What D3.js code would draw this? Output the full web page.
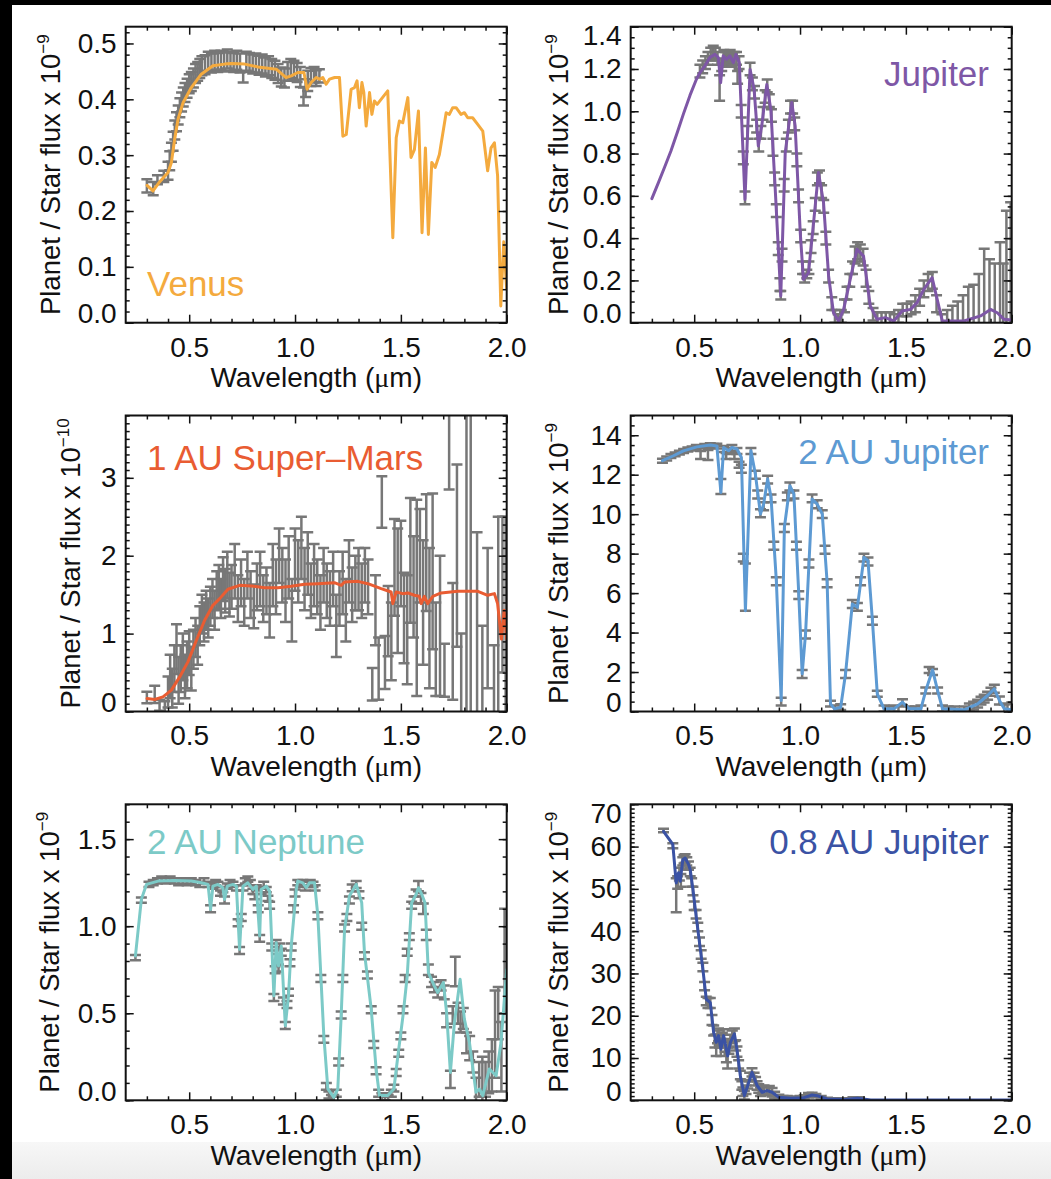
<!DOCTYPE html>
<html><head><meta charset="utf-8">
<script src="https://cdn.jsdelivr.net/npm/d3@7"></script>
<style>body{margin:0;background:#fff}svg{display:block}</style>
</head><body>
<svg id="c" width="1051" height="1179"></svg>
<script>
// ---------------- DATA ----------------
const xMajorTicks = [0.5, 1.0, 1.5, 2.0];
const xMinorTicks = [0.3,0.4,0.6,0.7,0.8,0.9,1.1,1.2,1.3,1.4,1.6,1.7,1.8,1.9];

const venusYTicks = [0.0,0.1,0.2,0.3,0.4,0.5];
const jupiterYTicks = [0.0,0.2,0.4,0.6,0.8,1.0,1.2,1.4];
const marsYTicks = [0,1,2,3];
const jup2YTicks = [0,2,4,6,8,10,12,14];
const neptuneYTicks = [0.0,0.5,1.0,1.5];
const jup08YTicks = [0,10,20,30,40,50,60,70];

const panelLabels = ["Venus","Jupiter","1 AU Super\u2013Mars","2 AU Jupiter","2 AU Neptune","0.8 AU Jupiter"];

// model spectra: [wavelength (um), planet/star flux]
const venusModel = [[0.301,0.246],[0.329,0.236],[0.360,0.252],[0.400,0.269],[0.416,0.287],[0.431,0.328],[0.447,0.364],[0.471,0.394],[0.510,0.421],[0.557,0.445],[0.612,0.460],[0.667,0.463],[0.699,0.464],[0.762,0.463],[0.825,0.458],[0.911,0.454],[0.958,0.439],[0.982,0.442],[1.013,0.448],[1.042,0.448],[1.057,0.418],[1.076,0.430],[1.100,0.439],[1.116,0.436],[1.131,0.439],[1.147,0.427],[1.163,0.436],[1.187,0.439],[1.210,0.439],[1.226,0.334],[1.242,0.337],[1.265,0.418],[1.281,0.421],[1.293,0.433],[1.304,0.385],[1.316,0.430],[1.325,0.412],[1.336,0.352],[1.352,0.412],[1.363,0.373],[1.375,0.397],[1.388,0.391],[1.438,0.415],[1.462,0.152],[1.478,0.331],[1.493,0.361],[1.509,0.358],[1.533,0.403],[1.548,0.296],[1.564,0.310],[1.583,0.379],[1.600,0.161],[1.616,0.313],[1.630,0.158],[1.646,0.287],[1.662,0.278],[1.682,0.301],[1.714,0.376],[1.729,0.373],[1.745,0.385],[1.761,0.385],[1.784,0.373],[1.800,0.376],[1.816,0.367],[1.839,0.367],[1.863,0.355],[1.887,0.343],[1.910,0.272],[1.926,0.313],[1.942,0.322],[1.957,0.263],[1.972,0.030],[1.986,0.145],[2.000,0.060]];

// observations: [wavelength, value, error]
const venusObs = [[0.300,0.245,0.012],[0.330,0.240,0.012],[0.350,0.256,0.008],[0.380,0.262,0.010],[0.400,0.272,0.016],[0.408,0.290,0.017],[0.416,0.305,0.017],[0.424,0.325,0.017],[0.432,0.345,0.017],[0.440,0.360,0.017],[0.448,0.372,0.017],[0.456,0.385,0.017],[0.464,0.395,0.017],[0.472,0.404,0.017],[0.480,0.412,0.017],[0.490,0.420,0.017],[0.500,0.428,0.017],[0.510,0.432,0.017],[0.520,0.438,0.017],[0.530,0.446,0.017],[0.540,0.450,0.017],[0.550,0.455,0.017],[0.560,0.460,0.017],[0.575,0.462,0.017],[0.590,0.468,0.017],[0.605,0.465,0.017],[0.620,0.470,0.017],[0.635,0.466,0.017],[0.650,0.470,0.017],[0.665,0.467,0.017],[0.680,0.472,0.017],[0.695,0.468,0.017],[0.710,0.466,0.017],[0.725,0.470,0.017],[0.740,0.465,0.017],[0.755,0.440,0.010],[0.770,0.468,0.017],[0.785,0.466,0.017],[0.800,0.463,0.017],[0.815,0.465,0.017],[0.830,0.461,0.017],[0.845,0.463,0.017],[0.860,0.458,0.017],[0.875,0.460,0.017],[0.890,0.455,0.017],[0.905,0.452,0.017],[0.920,0.446,0.017],[0.935,0.440,0.017],[0.950,0.438,0.017],[0.965,0.450,0.017],[0.980,0.455,0.017],[0.995,0.452,0.017],[1.010,0.448,0.017],[1.025,0.440,0.018],[1.040,0.405,0.016],[1.050,0.420,0.016],[1.060,0.433,0.018],[1.075,0.440,0.016],[1.090,0.444,0.014],[1.100,0.438,0.014],[1.115,0.442,0.012]];

const jupiterModel = [[0.300,0.587],[0.330,0.660],[0.360,0.735],[0.390,0.812],[0.420,0.900],[0.450,0.990],[0.480,1.075],[0.510,1.150],[0.527,1.183],[0.550,1.214],[0.574,1.254],[0.598,1.269],[0.614,1.254],[0.625,1.135],[0.637,1.262],[0.653,1.246],[0.669,1.262],[0.685,1.230],[0.697,1.269],[0.713,1.230],[0.740,0.583],[0.764,1.198],[0.783,1.104],[0.803,0.836],[0.819,0.930],[0.843,1.127],[0.862,1.009],[0.882,0.647],[0.909,0.126],[0.930,0.804],[0.961,1.041],[0.977,0.930],[1.001,0.426],[1.016,0.205],[1.040,0.237],[1.064,0.473],[1.087,0.710],[1.111,0.568],[1.135,0.221],[1.158,0.047],[1.182,0.008],[1.206,0.063],[1.237,0.205],[1.269,0.347],[1.300,0.315],[1.332,0.079],[1.364,0.016],[1.403,0.024],[1.443,0.008],[1.482,0.055],[1.522,0.063],[1.553,0.095],[1.585,0.158],[1.624,0.213],[1.648,0.110],[1.672,0.008],[1.774,0.008],[1.853,0.032],[1.900,0.063],[1.932,0.047],[1.964,0.016],[2.000,0.013]];

const jupiterObs = [[0.527,1.19,0.03],[0.540,1.21,0.03],[0.553,1.23,0.03],[0.565,1.25,0.03],[0.578,1.27,0.03],[0.590,1.28,0.03],[0.600,1.27,0.03],[0.610,1.25,0.03],[0.620,1.11,0.06],[0.630,1.22,0.03],[0.640,1.26,0.03],[0.650,1.25,0.03],[0.660,1.24,0.03],[0.670,1.26,0.03],[0.680,1.24,0.03],[0.690,1.25,0.03],[0.700,1.25,0.03],[0.705,1.16,0.03],[0.712,1.23,0.03],[0.722,1.00,0.03],[0.732,0.78,0.03],[0.740,0.59,0.03],[0.752,0.90,0.03],[0.764,1.20,0.03],[0.775,1.13,0.03],[0.785,1.09,0.03],[0.795,0.93,0.03],[0.805,0.84,0.03],[0.815,0.90,0.03],[0.825,0.99,0.03],[0.835,1.07,0.03],[0.845,1.12,0.03],[0.855,1.05,0.03],[0.865,0.98,0.03],[0.872,0.83,0.04],[0.880,0.68,0.03],[0.888,0.53,0.03],[0.897,0.35,0.03],[0.905,0.18,0.03],[0.909,0.13,0.02],[0.915,0.32,0.03],[0.925,0.65,0.03],[0.935,0.84,0.03],[0.945,0.93,0.03],[0.955,1.02,0.03],[0.965,1.02,0.03],[0.975,0.94,0.03],[0.985,0.77,0.03],[0.993,0.60,0.03],[1.003,0.41,0.03],[1.012,0.26,0.03],[1.022,0.21,0.02],[1.032,0.23,0.02],[1.042,0.26,0.03],[1.052,0.36,0.03],[1.062,0.45,0.03],[1.072,0.56,0.03],[1.082,0.68,0.03],[1.092,0.69,0.03],[1.102,0.62,0.03],[1.112,0.55,0.03],[1.122,0.40,0.03],[1.135,0.22,0.03],[1.150,0.09,0.03],[1.165,0.03,0.03],[1.180,0.01,0.03],[1.195,0.03,0.03],[1.210,0.08,0.03],[1.222,0.14,0.03],[1.235,0.20,0.03],[1.248,0.26,0.03],[1.260,0.32,0.04],[1.272,0.34,0.04],[1.285,0.33,0.04],[1.298,0.31,0.04],[1.312,0.21,0.04],[1.325,0.12,0.03],[1.345,0.04,0.03],[1.365,0.02,0.03],[1.385,0.02,0.03],[1.405,0.02,0.03],[1.425,0.02,0.03],[1.445,0.01,0.03],[1.465,0.03,0.03],[1.485,0.06,0.03],[1.505,0.06,0.03],[1.525,0.07,0.03],[1.545,0.09,0.04],[1.565,0.12,0.04],[1.585,0.16,0.04],[1.605,0.19,0.04],[1.625,0.20,0.04],[1.645,0.09,0.04],[1.670,0.01,0.03],[1.695,0.01,0.05],[1.720,0.02,0.06],[1.745,0.02,0.08],[1.770,0.03,0.10],[1.795,0.05,0.12],[1.820,0.05,0.13],[1.845,0.08,0.15],[1.870,0.10,0.25],[1.895,0.08,0.22],[1.920,0.08,0.20],[1.945,0.12,0.26],[1.960,0.06,0.22],[1.975,0.15,0.38],[1.995,0.15,0.42]];

const marsModel = [[0.301,0.167],[0.337,0.154],[0.376,0.188],[0.416,0.274],[0.455,0.444],[0.494,0.637],[0.534,0.915],[0.573,1.171],[0.612,1.363],[0.644,1.449],[0.683,1.569],[0.738,1.620],[0.793,1.611],[0.856,1.590],[0.919,1.590],[0.982,1.607],[1.045,1.633],[1.108,1.641],[1.186,1.654],[1.218,1.620],[1.234,1.663],[1.297,1.671],[1.344,1.641],[1.407,1.577],[1.454,1.534],[1.462,1.385],[1.478,1.534],[1.509,1.513],[1.533,1.522],[1.564,1.492],[1.587,1.479],[1.596,1.385],[1.611,1.479],[1.627,1.385],[1.651,1.479],[1.690,1.522],[1.769,1.543],[1.864,1.543],[1.910,1.492],[1.942,1.513],[1.957,1.385],[1.975,0.930],[1.988,1.300],[2.000,0.930]];

const marsObs = [[0.300,0.18,0.075],[0.337,0.22,0.11],[0.360,0.08,0.07],[0.385,0.05,0.08],[0.400,0.25,0.20],[0.410,0.45,0.28],[0.420,0.30,0.25],[0.430,0.55,0.30],[0.440,0.80,0.32],[0.450,0.40,0.30],[0.460,0.55,0.30],[0.470,0.70,0.30],[0.480,0.45,0.28],[0.490,0.60,0.30],[0.500,0.75,0.28],[0.510,0.55,0.28],[0.520,0.80,0.25],[0.530,0.95,0.25],[0.540,0.85,0.25],[0.550,1.10,0.25],[0.560,1.25,0.25],[0.570,1.15,0.25],[0.580,1.30,0.25],[0.590,1.20,0.25],[0.600,1.35,0.25],[0.610,1.45,0.25],[0.620,1.30,0.25],[0.630,1.55,0.25],[0.640,1.60,0.28],[0.650,1.45,0.25],[0.660,1.70,0.28],[0.670,1.55,0.28],[0.680,1.75,0.30],[0.690,1.50,0.28],[0.700,1.60,0.28],[0.715,1.80,0.35],[0.730,1.45,0.30],[0.745,1.65,0.30],[0.760,1.40,0.30],[0.775,1.75,0.30],[0.790,1.50,0.30],[0.805,1.35,0.28],[0.820,1.60,0.30],[0.835,1.70,0.35],[0.850,1.45,0.30],[0.865,1.55,0.30],[0.880,1.30,0.35],[0.895,1.75,0.40],[0.910,1.60,0.35],[0.925,2.00,0.35],[0.940,1.75,0.35],[0.955,1.55,0.40],[0.970,1.85,0.40],[0.985,1.30,0.40],[1.000,1.95,0.40],[1.015,1.80,0.40],[1.030,2.10,0.40],[1.045,1.70,0.40],[1.060,1.90,0.40],[1.075,1.55,0.35],[1.090,1.75,0.40],[1.105,1.60,0.35],[1.120,1.40,0.35],[1.135,1.75,0.35],[1.150,1.55,0.35],[1.165,1.45,0.35],[1.180,1.70,0.35],[1.195,1.10,0.40],[1.210,1.45,0.35],[1.225,1.65,0.40],[1.240,1.30,0.40],[1.255,1.80,0.40],[1.270,1.50,0.35],[1.285,1.65,0.35],[1.300,1.70,0.40],[1.315,1.55,0.35],[1.330,1.75,0.35],[1.345,1.60,0.35],[1.365,0.35,0.21],[1.380,1.30,0.45],[1.395,0.55,0.40],[1.410,2.69,0.33],[1.425,0.63,0.34],[1.440,1.16,0.45],[1.455,0.90,0.50],[1.470,1.85,0.62],[1.485,1.55,0.80],[1.500,1.90,0.55],[1.515,1.20,0.58],[1.530,1.05,0.70],[1.545,1.94,0.80],[1.560,1.60,0.65],[1.575,1.46,1.26],[1.590,2.00,0.60],[1.605,1.40,0.80],[1.620,2.04,0.75],[1.635,1.20,0.90],[1.650,1.80,1.00],[1.665,0.80,0.60],[1.685,1.10,0.90],[1.706,0.53,0.34],[1.728,3.50,0.65],[1.745,0.90,0.75],[1.765,2.00,1.17],[1.785,0.40,0.60],[1.810,1.50,2.40],[1.830,2.00,2.50],[1.860,0.90,1.40],[1.885,0.30,0.80],[1.910,1.20,0.90],[1.940,0.30,0.55],[1.960,0.90,1.60],[1.980,1.50,1.00],[1.995,0.60,1.90]];

const jup2Model = [[0.350,12.71],[0.402,12.96],[0.449,13.21],[0.513,13.41],[0.576,13.50],[0.607,13.46],[0.626,11.10],[0.639,13.38],[0.663,13.21],[0.678,13.38],[0.702,13.30],[0.723,12.87],[0.742,5.11],[0.768,13.21],[0.789,12.03],[0.813,10.01],[0.828,10.51],[0.847,11.78],[0.863,10.85],[0.888,6.63],[0.911,0.557],[0.926,9.33],[0.952,11.44],[0.971,11.02],[0.994,5.96],[1.010,1.91],[1.026,3.93],[1.057,10.77],[1.081,10.51],[1.105,10.01],[1.128,6.55],[1.144,0.388],[1.163,0.135],[1.192,0.219],[1.215,1.91],[1.247,5.45],[1.271,5.28],[1.302,7.81],[1.321,7.64],[1.342,4.61],[1.365,0.894],[1.397,0.135],[1.444,0.135],[1.484,0.472],[1.515,0.135],[1.571,0.135],[1.594,1.063],[1.626,2.11],[1.650,1.063],[1.673,0.135],[1.776,0.084],[1.839,0.388],[1.886,0.81],[1.918,1.147],[1.942,0.557],[1.965,0.135],[2.000,0.084]];

const jup2Obs = [[0.350,12.71,0.1],[0.370,12.82,0.1],[0.390,12.95,0.1],[0.410,13.03,0.1],[0.430,13.12,0.1],[0.450,13.20,0.1],[0.470,13.28,0.1],[0.490,13.33,0.1],[0.510,13.40,0.1],[0.530,13.00,0.2],[0.550,13.45,0.1],[0.565,13.00,0.25],[0.576,13.50,0.1],[0.590,13.45,0.1],[0.607,13.45,0.12],[0.626,11.40,0.38],[0.639,13.30,0.15],[0.651,12.95,0.15],[0.663,13.20,0.15],[0.678,13.35,0.15],[0.690,12.95,0.15],[0.702,13.20,0.15],[0.712,12.50,0.15],[0.723,12.30,0.2],[0.732,7.80,0.2],[0.742,6.30,1.2],[0.768,13.20,0.15],[0.789,12.00,0.2],[0.800,11.00,0.2],[0.813,10.05,0.2],[0.828,10.40,0.2],[0.847,11.75,0.2],[0.863,10.80,0.2],[0.876,8.40,0.2],[0.888,6.60,0.2],[0.911,0.50,0.2],[0.926,9.30,0.2],[0.940,10.90,0.2],[0.952,11.40,0.2],[0.971,11.00,0.2],[0.983,8.40,0.2],[0.994,5.90,0.2],[1.010,1.90,0.2],[1.026,3.90,0.2],[1.042,7.50,0.2],[1.057,10.80,0.2],[1.081,10.50,0.2],[1.105,10.00,0.2],[1.118,8.20,0.2],[1.128,6.50,0.2],[1.144,0.40,0.15],[1.163,0.15,0.15],[1.192,0.22,0.15],[1.215,1.90,0.2],[1.247,5.45,0.2],[1.271,5.30,0.2],[1.286,6.60,0.2],[1.302,7.80,0.2],[1.321,7.60,0.2],[1.342,4.60,0.2],[1.365,0.90,0.15],[1.397,0.15,0.15],[1.420,0.10,0.15],[1.444,0.15,0.15],[1.465,0.10,0.15],[1.484,0.47,0.15],[1.515,0.10,0.15],[1.545,0.10,0.15],[1.571,0.15,0.15],[1.594,1.06,0.15],[1.610,2.10,0.15],[1.626,2.00,0.15],[1.650,1.06,0.15],[1.673,0.15,0.15],[1.700,0.10,0.15],[1.730,0.10,0.15],[1.776,0.10,0.15],[1.800,0.20,0.2],[1.820,0.30,0.2],[1.839,0.40,0.2],[1.855,0.55,0.2],[1.870,0.65,0.2],[1.886,0.80,0.2],[1.902,1.00,0.2],[1.918,1.15,0.2],[1.942,0.56,0.2],[1.965,0.15,0.2],[1.980,0.15,0.25],[2.000,0.20,0.25]];

const neptuneModel = [[0.246,0.829],[0.274,1.154],[0.298,1.240],[0.353,1.259],[0.431,1.263],[0.510,1.259],[0.557,1.249],[0.589,1.240],[0.601,1.096],[0.612,1.230],[0.636,1.240],[0.659,1.221],[0.667,1.154],[0.680,1.230],[0.707,1.240],[0.723,1.230],[0.738,0.867],[0.754,1.230],[0.777,1.249],[0.801,1.211],[0.817,1.230],[0.833,0.944],[0.840,1.211],[0.864,1.230],[0.880,1.201],[0.900,0.600],[0.911,0.905],[0.922,0.772],[0.935,0.886],[0.954,0.428],[0.969,0.600],[0.982,0.886],[1.006,1.211],[1.013,1.259],[1.037,1.249],[1.053,1.221],[1.068,1.249],[1.092,1.249],[1.108,1.058],[1.136,0.371],[1.155,0.065],[1.183,0.017],[1.202,0.065],[1.218,0.485],[1.234,0.982],[1.257,1.173],[1.289,1.240],[1.315,1.135],[1.328,0.848],[1.360,0.523],[1.383,0.180],[1.399,0.027],[1.438,0.027],[1.467,0.065],[1.486,0.256],[1.510,0.485],[1.530,0.714],[1.551,1.135],[1.572,1.182],[1.583,1.221],[1.599,1.182],[1.614,1.135],[1.630,0.733],[1.658,0.657],[1.674,0.619],[1.701,0.676],[1.716,0.504],[1.734,0.160],[1.753,0.447],[1.780,0.695],[1.800,0.466],[1.824,0.332],[1.855,0.046],[1.871,0.065],[1.887,0.027],[1.918,0.180],[1.950,0.141],[1.973,0.332],[2.000,0.750]];

const neptuneObs = [[0.246,0.82,0.015],[0.274,1.15,0.015],[0.310,1.24,0.015],[0.330,1.25,0.015],[0.350,1.26,0.015],[0.370,1.27,0.015],[0.390,1.26,0.015],[0.410,1.27,0.015],[0.430,1.26,0.015],[0.450,1.25,0.015],[0.470,1.26,0.015],[0.490,1.25,0.015],[0.510,1.26,0.015],[0.530,1.25,0.015],[0.550,1.24,0.015],[0.570,1.26,0.015],[0.589,1.24,0.015],[0.601,1.10,0.02],[0.612,1.23,0.015],[0.625,1.25,0.015],[0.636,1.24,0.015],[0.648,1.19,0.015],[0.659,1.21,0.015],[0.667,1.15,0.02],[0.680,1.23,0.015],[0.693,1.25,0.015],[0.707,1.24,0.015],[0.723,1.22,0.015],[0.731,1.02,0.02],[0.738,0.86,0.02],[0.746,1.05,0.02],[0.754,1.22,0.015],[0.765,1.26,0.015],[0.777,1.27,0.015],[0.789,1.25,0.015],[0.801,1.20,0.015],[0.810,1.17,0.015],[0.817,1.22,0.015],[0.826,1.10,0.02],[0.833,0.93,0.02],[0.840,1.20,0.015],[0.852,1.24,0.015],[0.864,1.21,0.015],[0.872,1.16,0.015],[0.880,1.12,0.02],[0.890,0.88,0.02],[0.900,0.59,0.02],[0.906,0.75,0.02],[0.911,0.90,0.02],[0.917,0.82,0.02],[0.922,0.76,0.02],[0.928,0.88,0.02],[0.935,0.85,0.02],[0.945,0.57,0.02],[0.954,0.43,0.02],[0.962,0.55,0.02],[0.969,0.62,0.02],[0.976,0.79,0.02],[0.982,0.88,0.02],[0.993,1.10,0.02],[1.000,1.19,0.02],[1.013,1.25,0.015],[1.025,1.24,0.015],[1.037,1.25,0.015],[1.048,1.22,0.015],[1.060,1.24,0.015],[1.072,1.25,0.015],[1.085,1.24,0.015],[1.095,1.22,0.015],[1.108,1.06,0.02],[1.122,0.70,0.02],[1.136,0.35,0.02],[1.148,0.08,0.02],[1.160,0.03,0.02],[1.172,0.01,0.02],[1.183,0.01,0.02],[1.195,0.04,0.02],[1.206,0.22,0.02],[1.218,0.49,0.02],[1.226,0.70,0.02],[1.234,0.99,0.02],[1.245,1.05,0.02],[1.257,1.15,0.02],[1.270,1.22,0.02],[1.289,1.24,0.02],[1.302,1.18,0.02],[1.315,1.00,0.02],[1.328,0.83,0.02],[1.342,0.72,0.02],[1.360,0.52,0.02],[1.372,0.32,0.02],[1.383,0.17,0.02],[1.395,0.04,0.02],[1.410,0.02,0.02],[1.425,0.02,0.02],[1.440,0.01,0.02],[1.455,0.04,0.02],[1.467,0.07,0.02],[1.478,0.16,0.02],[1.490,0.27,0.02],[1.500,0.37,0.02],[1.510,0.52,0.02],[1.520,0.70,0.02],[1.530,0.85,0.02],[1.540,0.94,0.02],[1.551,1.12,0.02],[1.562,1.15,0.02],[1.572,1.19,0.02],[1.583,1.23,0.03],[1.595,1.16,0.03],[1.606,1.10,0.03],[1.620,0.95,0.03],[1.630,0.75,0.03],[1.645,0.68,0.03],[1.658,0.65,0.03],[1.674,0.62,0.03],[1.690,0.66,0.03],[1.705,0.62,0.04],[1.716,0.46,0.04],[1.734,0.12,0.05],[1.745,0.49,0.05],[1.757,0.74,0.085],[1.770,0.50,0.06],[1.782,0.45,0.06],[1.795,0.47,0.06],[1.810,0.33,0.06],[1.825,0.30,0.07],[1.840,0.22,0.06],[1.855,0.05,0.08],[1.870,0.12,0.10],[1.885,0.10,0.15],[1.900,0.12,0.10],[1.915,0.16,0.12],[1.930,0.20,0.15],[1.945,0.38,0.25],[1.960,0.50,0.15],[1.975,0.25,0.20],[1.990,0.80,0.30]];

const jup08Model = [[0.355,63.6],[0.399,60.5],[0.415,51.4],[0.426,53.8],[0.434,51.8],[0.446,56.9],[0.457,57.3],[0.473,55.8],[0.481,54.6],[0.494,49.9],[0.509,43.6],[0.525,37.3],[0.541,31.0],[0.557,23.9],[0.576,23.1],[0.592,16.0],[0.604,13.7],[0.615,15.3],[0.626,12.1],[0.639,15.3],[0.658,10.5],[0.671,13.7],[0.690,15.7],[0.702,12.1],[0.718,5.8],[0.737,1.1],[0.753,3.5],[0.773,6.6],[0.797,3.5],[0.821,1.9],[0.844,2.3],[0.868,1.9],[0.900,0.7],[0.955,0.47],[1.018,0.63],[1.057,1.26],[1.081,1.1],[1.128,0.31],[1.207,0.16],[1.271,0.47],[1.334,0.08],[2.000,0.08]];

const jup08Obs = [[0.355,63.8,0.4],[0.399,60.2,0.6],[0.415,48.5,4.0],[0.422,51.5,1.5],[0.430,53.5,1.5],[0.437,52.0,1.5],[0.446,56.5,1.0],[0.452,57.0,1.0],[0.457,57.2,1.0],[0.465,56.5,1.0],[0.473,55.5,1.0],[0.481,54.0,1.0],[0.488,51.5,1.0],[0.494,49.5,1.0],[0.500,46.0,1.0],[0.509,44.0,1.0],[0.517,41.0,1.0],[0.525,37.5,1.0],[0.533,34.5,1.0],[0.541,31.5,1.0],[0.549,27.0,1.0],[0.557,23.5,1.0],[0.565,23.0,1.2],[0.576,23.0,1.2],[0.584,19.0,1.2],[0.592,16.5,1.2],[0.598,14.0,1.5],[0.604,13.0,2.5],[0.610,15.0,1.5],[0.615,15.5,1.5],[0.620,14.0,1.5],[0.626,12.5,2.0],[0.633,14.5,1.5],[0.639,15.3,1.5],[0.646,13.0,1.5],[0.652,11.0,2.0],[0.658,10.0,2.5],[0.664,12.5,1.5],[0.671,14.0,1.5],[0.680,15.0,1.5],[0.690,15.5,1.5],[0.696,13.0,1.2],[0.702,11.5,1.2],[0.710,8.5,1.0],[0.718,6.0,1.0],[0.725,3.5,1.0],[0.730,2.0,1.0],[0.737,1.2,1.0],[0.745,2.5,1.0],[0.753,3.8,1.0],[0.762,5.5,1.0],[0.773,6.6,1.0],[0.783,5.5,1.0],[0.790,4.5,1.0],[0.797,3.5,1.0],[0.805,2.8,1.0],[0.813,2.0,1.0],[0.821,2.2,1.0],[0.830,2.5,1.0],[0.844,2.3,1.0],[0.855,2.4,1.0],[0.868,1.9,1.0],[0.880,1.2,0.8],[0.900,0.7,0.6],[0.920,0.5,0.5],[0.940,0.5,0.5],[0.970,0.5,0.4],[1.000,0.6,0.4],[1.020,0.8,0.4],[1.040,1.2,0.5],[1.057,1.3,0.5],[1.075,1.1,0.4],[1.100,0.6,0.4],[1.130,0.3,0.3],[1.170,0.2,0.3],[1.210,0.2,0.3],[1.250,0.4,0.3],[1.280,0.4,0.3]];

// ---------------- LAYOUT / STYLE ----------------
const FONT = '"Liberation Sans", Arial, Helvetica, sans-serif';
const GRAY = '#777777';
const INK = '#111';
const W = 381, H = 296;
const colLeft = [125.7, 630.7];
const rowTop = [26.7, 415.5, 804.3];

const panels = [
  {col:0,row:0,model:venusModel,obs:venusObs,color:'#F4AA3E',yDomain:[0,0.53],yMajor:venusYTicks,minorStep:0.02,fmt:d3.format('.1f'),label:panelLabels[0],anchor:'start',labelY:269,exp:'\u22129',titleX:60},
  {col:1,row:0,model:jupiterModel,obs:jupiterObs,color:'#7E57A6',yDomain:[0,1.4],yMajor:jupiterYTicks,minorStep:0.05,fmt:d3.format('.1f'),label:panelLabels[1],anchor:'end',labelY:59,exp:'\u22129',titleX:568},
  {col:0,row:1,model:marsModel,obs:marsObs,color:'#E95C32',yDomain:[0,3.8],yMajor:marsYTicks,minorStep:0.1,fmt:d3.format('d'),label:panelLabels[2],anchor:'start',labelY:54,exp:'\u221210',titleX:80},
  {col:1,row:1,model:jup2Model,obs:jup2Obs,color:'#5D9AD3',yDomain:[0,15],yMajor:jup2YTicks,minorStep:0.5,fmt:d3.format('d'),label:panelLabels[3],anchor:'end',labelY:48.5,exp:'\u22129',titleX:568},
  {col:0,row:2,model:neptuneModel,obs:neptuneObs,color:'#7CCAC7',yDomain:[0,1.7],yMajor:neptuneYTicks,minorStep:0.1,fmt:d3.format('.1f'),label:panelLabels[4],anchor:'start',labelY:50,exp:'\u22129',titleX:59},
  {col:1,row:2,model:jup08Model,obs:jup08Obs,color:'#3A52A4',yDomain:[0,70],yMajor:jup08YTicks,minorStep:1,fmt:d3.format('d'),label:panelLabels[5],anchor:'end',labelY:50,exp:'\u22129',titleX:568}
];

const svg = d3.select('#c');
const defs = svg.append('defs');
const grad = defs.append('linearGradient').attr('id','bg').attr('x1',0).attr('y1',0).attr('x2',0).attr('y2',1);
grad.append('stop').attr('offset',0).attr('stop-color','#f7f7f7');
grad.append('stop').attr('offset',1).attr('stop-color','#ececec');

svg.append('rect').attr('width',1051).attr('height',1179).attr('fill','#fff');
svg.append('rect').attr('x',12).attr('y',1142).attr('width',1039).attr('height',37).attr('fill','url(#bg)');
svg.append('rect').attr('x',0).attr('y',0).attr('width',12).attr('height',1179).attr('fill','#000');
svg.append('rect').attr('x',0).attr('y',0).attr('width',1051).attr('height',5).attr('fill','#000');

function minorValues(lo, hi, step) {
  const n = Math.floor((hi - lo) / step + 1e-6);
  return d3.range(0, n + 1).map(i => +(lo + i * step).toFixed(4));
}

panels.forEach((p, i) => {
  const left = colLeft[p.col], top = rowTop[p.row];
  const right = left + W, bottom = top + H;
  const x = d3.scaleLinear().domain([0.2, 2.0]).range([left, right]);
  const y = d3.scaleLinear().domain(p.yDomain).range([bottom, top]);
  const g = svg.append('g');

  defs.append('clipPath').attr('id','clip'+i).append('rect')
    .attr('x',left).attr('y',top).attr('width',W).attr('height',H);
  const plot = g.append('g').attr('clip-path',`url(#clip${i})`);

  // error bars
  const cw = 5.5;
  plot.append('g').attr('fill','none').attr('stroke',GRAY).attr('stroke-width',2.5)
    .selectAll('path').data(p.obs).join('path')
    .attr('d', d => {
      const cx = x(d[0]), y1 = y(d[1]-d[2]), y2 = y(d[1]+d[2]);
      return `M${cx-cw},${y1}H${cx+cw}M${cx},${y1}V${y2}M${cx-cw},${y2}H${cx+cw}`;
    });

  // model line
  plot.append('path').datum(p.model)
    .attr('fill','none').attr('stroke',p.color).attr('stroke-width',3)
    .attr('stroke-linejoin','round').attr('stroke-linecap','round')
    .attr('d', d3.line().x(d => x(d[0])).y(d => y(d[1])));

  // axes
  const yMinor = minorValues(p.yDomain[0], p.yDomain[1], p.minorStep);
  const axG = g.append('g').attr('font-family',FONT);
  const addAxis = (axis, tx, ty) => {
    const a = axG.append('g').attr('transform',`translate(${tx},${ty})`).call(axis);
    a.select('.domain').remove();
    a.selectAll('.tick line').attr('stroke',INK).attr('stroke-width',1.5);
    a.selectAll('.tick text').attr('font-size',28).attr('fill',INK).attr('font-family',FONT);
    return a;
  };
  addAxis(d3.axisBottom(x).tickValues(xMajorTicks).tickSize(-8).tickPadding(14).tickFormat(d3.format('.1f')), 0, bottom);
  addAxis(d3.axisBottom(x).tickValues(xMinorTicks).tickSize(-4).tickFormat(''), 0, bottom);
  addAxis(d3.axisTop(x).tickValues(xMajorTicks).tickSize(-8).tickFormat(''), 0, top);
  addAxis(d3.axisTop(x).tickValues(xMinorTicks).tickSize(-4).tickFormat(''), 0, top);
  const ly = addAxis(d3.axisLeft(y).tickValues(p.yMajor).tickSize(-8).tickPadding(9).tickFormat(p.fmt), left, 0);
  ly.selectAll('.tick text').attr('y', d => d === p.yDomain[0] ? -9 : (d === p.yDomain[1] ? 9 : 0));
  addAxis(d3.axisLeft(y).tickValues(yMinor).tickSize(-4).tickFormat(''), left, 0);
  addAxis(d3.axisRight(y).tickValues(p.yMajor).tickSize(-8).tickFormat(''), right, 0);
  addAxis(d3.axisRight(y).tickValues(yMinor).tickSize(-4).tickFormat(''), right, 0);

  // frame
  g.append('rect').attr('x',left).attr('y',top).attr('width',W).attr('height',H)
    .attr('fill','none').attr('stroke',INK).attr('stroke-width',2);

  // x title
  const xt = g.append('text').attr('x',(left+right)/2).attr('y',bottom+64.5)
    .attr('text-anchor','middle').attr('font-family',FONT).attr('font-size',28).attr('fill',INK);
  xt.append('tspan').text('Wavelength (');
  xt.append('tspan').attr('font-family','"Liberation Serif", "DejaVu Serif", serif').text('\u03BC');
  xt.append('tspan').text('m)');

  // y title
  const yt = g.append('text')
    .attr('transform',`translate(${p.titleX},${(top+bottom)/2}) rotate(-90)`)
    .attr('text-anchor','middle').attr('font-family',FONT).attr('font-size',27.5).attr('fill',INK);
  yt.append('tspan').text('Planet / Star flux x 10');
  yt.append('tspan').attr('font-size',17).attr('dy',-11).text(p.exp);

  // panel label
  g.append('text')
    .attr('x', p.anchor === 'start' ? 147 : 989)
    .attr('y', top + p.labelY)
    .attr('text-anchor', p.anchor)
    .attr('font-family',FONT).attr('font-size',35).attr('fill',p.color)
    .text(p.label);
});
</script>
</body></html>
